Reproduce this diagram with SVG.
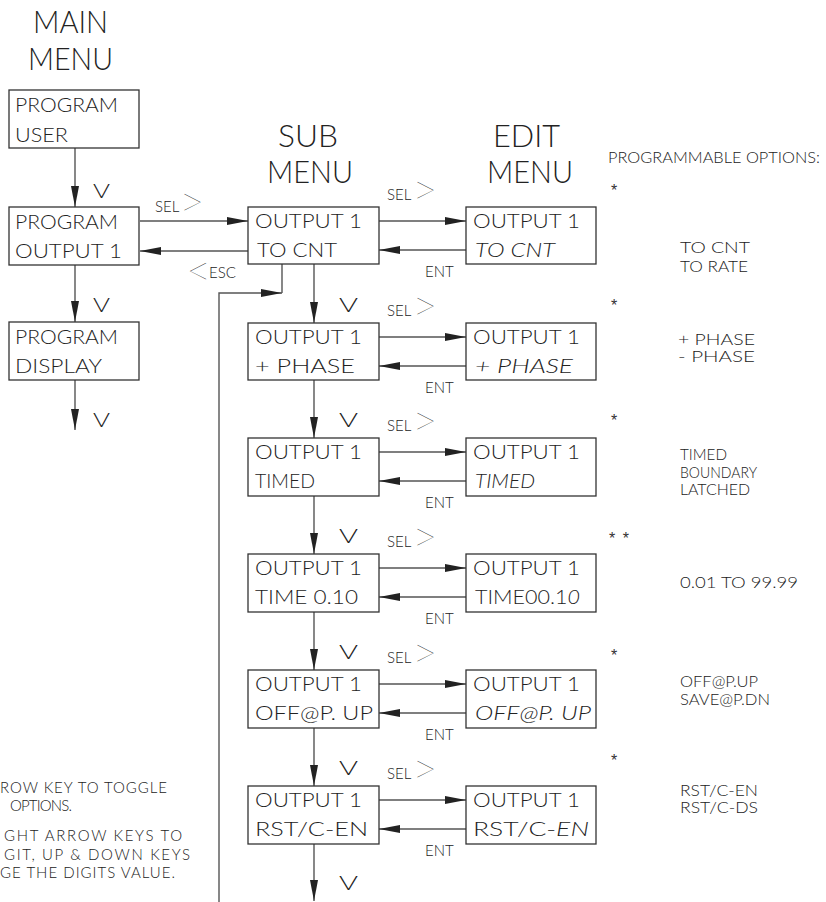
<svg xmlns="http://www.w3.org/2000/svg" width="826" height="902" viewBox="0 0 826 902">
<style>
text{font-family:Lato,Roboto,"Liberation Sans",sans-serif;font-weight:300;fill:#222}
.t{font-size:20px}
.ttl{font-size:31px;font-weight:300}
.lbl{font-size:15px}
.opt{font-size:15px}
.chev{font-size:44px;font-weight:100}
.star{font-family:"Liberation Sans",sans-serif;font-weight:400;font-size:16px;fill:#333}
.it{font-style:italic}
.box{fill:#fff;stroke:#333;stroke-width:1.3}
.ln{fill:none;stroke:#555;stroke-width:1.4}
</style>
<defs>
<marker id="ah" markerUnits="userSpaceOnUse" markerWidth="22" markerHeight="9" refX="21" refY="4" orient="auto">
<path d="M0,0 L21,4 L0,8 z" fill="#222"/>
</marker>
</defs>
<rect width="826" height="902" fill="#fff"/>

<g id="titles">
<text class="ttl" x="33" y="33" textLength="75" lengthAdjust="spacingAndGlyphs">MAIN</text>
<text class="ttl" x="28" y="70" textLength="85" lengthAdjust="spacingAndGlyphs">MENU</text>
<text class="ttl" x="278" y="147" textLength="60" lengthAdjust="spacingAndGlyphs">SUB</text>
<text class="ttl" x="267" y="183" textLength="86" lengthAdjust="spacingAndGlyphs">MENU</text>
<text class="ttl" x="493" y="147" textLength="67" lengthAdjust="spacingAndGlyphs">EDIT</text>
<text class="ttl" x="487" y="183" textLength="86" lengthAdjust="spacingAndGlyphs">MENU</text>
</g>

<g id="connectors">
<path class="ln" d="M75,148 V207" marker-end="url(#ah)"/>
<path class="ln" d="M75,265 V322" marker-end="url(#ah)"/>
<path class="ln" d="M75,380 V430" marker-end="url(#ah)"/>
<path class="ln" d="M140,221 H248" marker-end="url(#ah)"/>
<path class="ln" d="M248,251 H140" marker-end="url(#ah)"/>
<path class="ln" d="M314,264 V323" marker-end="url(#ah)"/>
<path class="ln" d="M314,380 V438" marker-end="url(#ah)"/>
<path class="ln" d="M314,496 V554" marker-end="url(#ah)"/>
<path class="ln" d="M314,612 V670" marker-end="url(#ah)"/>
<path class="ln" d="M314,728 V786" marker-end="url(#ah)"/>
<path class="ln" d="M314,844 V901" marker-end="url(#ah)"/>
<path class="ln" d="M379,221 H466" marker-end="url(#ah)"/>
<path class="ln" d="M466,250 H379" marker-end="url(#ah)"/>
<path class="ln" d="M379,337 H466" marker-end="url(#ah)"/>
<path class="ln" d="M466,366 H379" marker-end="url(#ah)"/>
<path class="ln" d="M379,452 H466" marker-end="url(#ah)"/>
<path class="ln" d="M466,481 H379" marker-end="url(#ah)"/>
<path class="ln" d="M379,568 H466" marker-end="url(#ah)"/>
<path class="ln" d="M466,597 H379" marker-end="url(#ah)"/>
<path class="ln" d="M379,684 H466" marker-end="url(#ah)"/>
<path class="ln" d="M466,713 H379" marker-end="url(#ah)"/>
<path class="ln" d="M379,800 H466" marker-end="url(#ah)"/>
<path class="ln" d="M466,829 H379" marker-end="url(#ah)"/>
<path class="ln" d="M219,902 V293 H282" marker-end="url(#ah)"/>
<path class="ln" d="M282,293 V264"/>
</g>

<g id="connector-labels">
<text class="t" x="93" y="198" textLength="17" lengthAdjust="spacingAndGlyphs">V</text>
<text class="t" x="93" y="312" textLength="17" lengthAdjust="spacingAndGlyphs">V</text>
<text class="t" x="93" y="427" textLength="17" lengthAdjust="spacingAndGlyphs">V</text>
<text class="t" x="339" y="312" textLength="19" lengthAdjust="spacingAndGlyphs">V</text>
<text class="t" x="339" y="427" textLength="19" lengthAdjust="spacingAndGlyphs">V</text>
<text class="t" x="339" y="543" textLength="19" lengthAdjust="spacingAndGlyphs">V</text>
<text class="t" x="339" y="659" textLength="19" lengthAdjust="spacingAndGlyphs">V</text>
<text class="t" x="339" y="775" textLength="19" lengthAdjust="spacingAndGlyphs">V</text>
<text class="t" x="339" y="890" textLength="19" lengthAdjust="spacingAndGlyphs">V</text>
<text class="lbl" x="155" y="212">SEL</text><text class="chev" x="179" y="217">&gt;</text>
<text class="lbl" x="387" y="200">SEL</text><text class="chev" x="412" y="205">&gt;</text>
<text class="lbl" x="387" y="316">SEL</text><text class="chev" x="412" y="321">&gt;</text>
<text class="lbl" x="387" y="431">SEL</text><text class="chev" x="412" y="436">&gt;</text>
<text class="lbl" x="387" y="547">SEL</text><text class="chev" x="412" y="552">&gt;</text>
<text class="lbl" x="387" y="663">SEL</text><text class="chev" x="412" y="668">&gt;</text>
<text class="lbl" x="387" y="779">SEL</text><text class="chev" x="412" y="784">&gt;</text>
<text class="lbl" x="425" y="277">ENT</text>
<text class="lbl" x="425" y="393">ENT</text>
<text class="lbl" x="425" y="508">ENT</text>
<text class="lbl" x="425" y="624">ENT</text>
<text class="lbl" x="425" y="740">ENT</text>
<text class="lbl" x="425" y="856">ENT</text>
<text class="chev" x="186" y="286">&lt;</text><text class="lbl" x="209" y="278">ESC</text>
</g>

<g id="main-program-user">
<rect class="box" x="9" y="90" width="130" height="58"/>
<text class="t" x="15" y="112" textLength="103" lengthAdjust="spacingAndGlyphs">PROGRAM</text>
<text class="t" x="15" y="142" textLength="53" lengthAdjust="spacingAndGlyphs">USER</text>
</g>
<g id="main-program-output1">
<rect class="box" x="9" y="207" width="130" height="58"/>
<text class="t" x="15" y="229" textLength="103" lengthAdjust="spacingAndGlyphs">PROGRAM</text>
<text class="t" x="15" y="258" textLength="107" lengthAdjust="spacingAndGlyphs">OUTPUT 1</text>
</g>
<g id="main-program-display">
<rect class="box" x="9" y="322" width="130" height="58"/>
<text class="t" x="15" y="344" textLength="103" lengthAdjust="spacingAndGlyphs">PROGRAM</text>
<text class="t" x="15" y="373" textLength="87" lengthAdjust="spacingAndGlyphs">DISPLAY</text>
</g>

<g id="sub-1">
<rect class="box" x="248" y="207" width="131" height="57"/>
<text class="t" x="255" y="228" textLength="107" lengthAdjust="spacingAndGlyphs">OUTPUT 1</text>
<text class="t" x="257" y="257" textLength="80" lengthAdjust="spacingAndGlyphs">TO CNT</text>
</g>
<g id="sub-2">
<rect class="box" x="248" y="323" width="131" height="57"/>
<text class="t" x="255" y="344" textLength="107" lengthAdjust="spacingAndGlyphs">OUTPUT 1</text>
<text class="t" x="255" y="373" textLength="100" lengthAdjust="spacingAndGlyphs">+ PHASE</text>
</g>
<g id="sub-3">
<rect class="box" x="248" y="438" width="131" height="58"/>
<text class="t" x="255" y="459" textLength="107" lengthAdjust="spacingAndGlyphs">OUTPUT 1</text>
<text class="t" x="255" y="488" textLength="60" lengthAdjust="spacingAndGlyphs">TIMED</text>
</g>
<g id="sub-4">
<rect class="box" x="248" y="554" width="131" height="58"/>
<text class="t" x="255" y="575" textLength="107" lengthAdjust="spacingAndGlyphs">OUTPUT 1</text>
<text class="t" x="255" y="604" textLength="103" lengthAdjust="spacingAndGlyphs">TIME 0.10</text>
</g>
<g id="sub-5">
<rect class="box" x="248" y="670" width="131" height="58"/>
<text class="t" x="255" y="691" textLength="107" lengthAdjust="spacingAndGlyphs">OUTPUT 1</text>
<text class="t" x="255" y="720" textLength="118" lengthAdjust="spacingAndGlyphs">OFF@P. UP</text>
</g>
<g id="sub-6">
<rect class="box" x="248" y="786" width="131" height="58"/>
<text class="t" x="255" y="807" textLength="107" lengthAdjust="spacingAndGlyphs">OUTPUT 1</text>
<text class="t" x="255" y="836" textLength="113" lengthAdjust="spacingAndGlyphs">RST/C-EN</text>
</g>

<g id="edit-1">
<rect class="box" x="466" y="207" width="130" height="57"/>
<text class="t" x="473" y="228" textLength="107" lengthAdjust="spacingAndGlyphs">OUTPUT 1</text>
<text class="t it" x="475" y="257" textLength="80" lengthAdjust="spacingAndGlyphs">TO CNT</text>
</g>
<g id="edit-2">
<rect class="box" x="466" y="323" width="130" height="57"/>
<text class="t" x="473" y="344" textLength="107" lengthAdjust="spacingAndGlyphs">OUTPUT 1</text>
<text class="t it" x="475" y="373" textLength="98" lengthAdjust="spacingAndGlyphs">+ PHASE</text>
</g>
<g id="edit-3">
<rect class="box" x="466" y="438" width="130" height="58"/>
<text class="t" x="473" y="459" textLength="107" lengthAdjust="spacingAndGlyphs">OUTPUT 1</text>
<text class="t it" x="475" y="488" textLength="60" lengthAdjust="spacingAndGlyphs">TIMED</text>
</g>
<g id="edit-4">
<rect class="box" x="466" y="554" width="130" height="58"/>
<text class="t" x="473" y="575" textLength="107" lengthAdjust="spacingAndGlyphs">OUTPUT 1</text>
<text class="t" x="475" y="604" textLength="105" lengthAdjust="spacingAndGlyphs">TIME00.1<tspan class="it">0</tspan></text>
</g>
<g id="edit-5">
<rect class="box" x="466" y="670" width="130" height="58"/>
<text class="t" x="473" y="691" textLength="107" lengthAdjust="spacingAndGlyphs">OUTPUT 1</text>
<text class="t it" x="475" y="720" textLength="116" lengthAdjust="spacingAndGlyphs">OFF@P. UP</text>
</g>
<g id="edit-6">
<rect class="box" x="466" y="786" width="130" height="58"/>
<text class="t" x="473" y="807" textLength="107" lengthAdjust="spacingAndGlyphs">OUTPUT 1</text>
<text class="t" x="473" y="836" textLength="116" lengthAdjust="spacingAndGlyphs">RST/C-<tspan class="it">EN</tspan></text>
</g>

<g id="options">
<text class="opt" x="608" y="163" textLength="212" lengthAdjust="spacingAndGlyphs">PROGRAMMABLE OPTIONS:</text>
<text class="star" x="611" y="196">*</text>
<text class="opt" x="680" y="253" textLength="70" lengthAdjust="spacingAndGlyphs">TO CNT</text>
<text class="opt" x="680" y="272" textLength="68" lengthAdjust="spacingAndGlyphs">TO RATE</text>
<text class="star" x="611" y="311">*</text>
<text class="opt" x="678" y="345" textLength="77" lengthAdjust="spacingAndGlyphs">+ PHASE</text>
<text class="opt" x="678" y="362" textLength="77" lengthAdjust="spacingAndGlyphs">- PHASE</text>
<text class="star" x="611" y="426">*</text>
<text class="opt" x="680" y="460" textLength="47" lengthAdjust="spacingAndGlyphs">TIMED</text>
<text class="opt" x="680" y="478" textLength="77" lengthAdjust="spacingAndGlyphs">BOUNDARY</text>
<text class="opt" x="680" y="495" textLength="70" lengthAdjust="spacingAndGlyphs">LATCHED</text>
<text class="star" x="609" y="544" textLength="20">* *</text>
<text class="opt" x="680" y="588" textLength="118" lengthAdjust="spacingAndGlyphs">0.01 TO 99.99</text>
<text class="star" x="611" y="661">*</text>
<text class="opt" x="680" y="687" textLength="78" lengthAdjust="spacingAndGlyphs">OFF@P.UP</text>
<text class="opt" x="680" y="705" textLength="90" lengthAdjust="spacingAndGlyphs">SAVE@P.DN</text>
<text class="star" x="611" y="766">*</text>
<text class="opt" x="680" y="796" textLength="78" lengthAdjust="spacingAndGlyphs">RST/C-EN</text>
<text class="opt" x="680" y="813" textLength="78" lengthAdjust="spacingAndGlyphs">RST/C-DS</text>
</g>

<g id="notes">
<text class="lbl" x="0" y="793" textLength="167">ROW KEY TO TOGGLE</text>
<text class="lbl" x="10" y="811" textLength="62">OPTIONS.</text>
<text class="lbl" x="4" y="841" textLength="178">GHT ARROW KEYS TO</text>
<text class="lbl" x="4" y="860" textLength="186">GIT, UP &amp; DOWN KEYS</text>
<text class="lbl" x="0" y="878" textLength="175">GE THE DIGITS VALUE.</text>
</g>
</svg>
